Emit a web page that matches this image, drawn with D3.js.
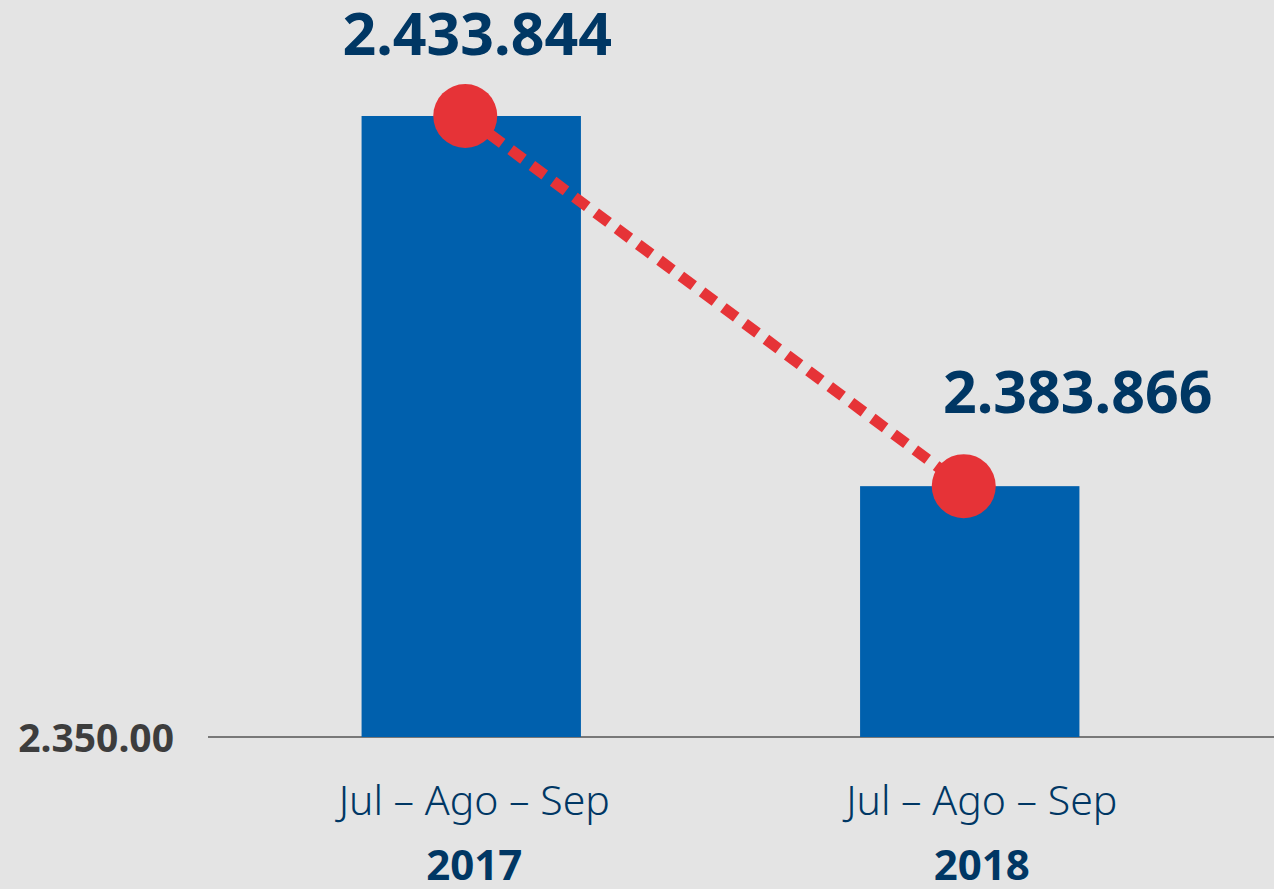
<!DOCTYPE html>
<html>
<head>
<meta charset="utf-8">
<script src="https://cdn.jsdelivr.net/npm/d3@7"></script>
<style>
  html, body { margin: 0; padding: 0; background: #e4e4e4; }
  svg { display: block; }
</style>
</head>
<body>
<svg id="chart" width="1274" height="889"></svg>
<script>
// ---- data ----
const periods = ["Jul – Ago – Sep", "Jul – Ago – Sep"];
const years = ["2017", "2018"];
const values = [2433844, 2383866];
const valueLabels = ["2.433.844", "2.383.866"];
const axisMin = 2350000;
const axisMinLabel = "2.350.00";

// ---- layout ----
const W = 1274, H = 889;
const baseY = 737;
const svg = d3.select("#chart");
svg.append("rect").attr("width", W).attr("height", H).attr("fill", "#e4e4e4");

const x = d3.scaleBand().domain(d3.range(values.length))
  .range([222, 1219]).paddingInner(0.56).paddingOuter(0.28);
const y = d3.scaleLinear().domain([axisMin, 2440000]).range([baseY, 70.4]);

const cx = i => x(i) + x.bandwidth() / 2;
const labelDx = [6, 108];
const labelDy = [61, 73];
const dotDx = -6;

// baseline
svg.append("line")
  .attr("x1", 208).attr("x2", W)
  .attr("y1", baseY).attr("y2", baseY)
  .attr("stroke", "#555").attr("stroke-width", 1.5);

// axis label
svg.append("text")
  .attr("x", 174).attr("y", baseY + 15)
  .attr("text-anchor", "end")
  .attr("font-family", "'Noto Sans', sans-serif")
  .attr("font-weight", 700).attr("font-size", 39)
  .attr("fill", "#3d3d3d")
  .text(axisMinLabel);

// bars
svg.selectAll("rect.bar").data(values).enter().append("rect")
  .attr("class", "bar")
  .attr("x", (d, i) => x(i))
  .attr("width", x.bandwidth())
  .attr("y", d => y(d))
  .attr("height", d => baseY - y(d))
  .attr("fill", "#0060ad");

// dashed line
const line = d3.line().x((d, i) => cx(i) + dotDx).y(d => y(d));
svg.append("path")
  .attr("d", line(values))
  .attr("fill", "none")
  .attr("stroke", "#e63337")
  .attr("stroke-width", 11)
  .attr("stroke-dasharray", "16 10.5")
  .attr("stroke-dashoffset", -30);

// dots
svg.selectAll("circle.dot").data(values).enter().append("circle")
  .attr("class", "dot")
  .attr("cx", (d, i) => cx(i) + dotDx)
  .attr("cy", d => y(d))
  .attr("r", 32)
  .attr("fill", "#e63337");

// value labels
svg.selectAll("text.val").data(values).enter().append("text")
  .attr("class", "val")
  .attr("x", (d, i) => cx(i) + labelDx[i])
  .attr("y", (d, i) => y(d) - labelDy[i])
  .attr("text-anchor", "middle")
  .attr("font-family", "'Noto Sans', sans-serif")
  .attr("font-weight", 700).attr("font-size", 59)
  .attr("fill", "#003764")
  .text((d, i) => valueLabels[i]);

// category labels
const catG = svg.selectAll("g.cat").data(periods).enter().append("g")
  .attr("class", "cat")
  .attr("transform", (d, i) => `translate(${cx(i) + (i === 0 ? 3 : 12)},0)`);
catG.append("text")
  .attr("y", 815)
  .attr("text-anchor", "middle")
  .attr("font-family", "'Noto Sans', sans-serif")
  .attr("font-weight", 300).attr("font-size", 41)
  .attr("fill", "#003764")
  .text(d => d);
catG.append("text")
  .attr("y", 880)
  .attr("text-anchor", "middle")
  .attr("font-family", "'Noto Sans', sans-serif")
  .attr("font-weight", 700).attr("font-size", 42)
  .attr("fill", "#003764")
  .text((d, i) => years[i]);
</script>
</body>
</html>
